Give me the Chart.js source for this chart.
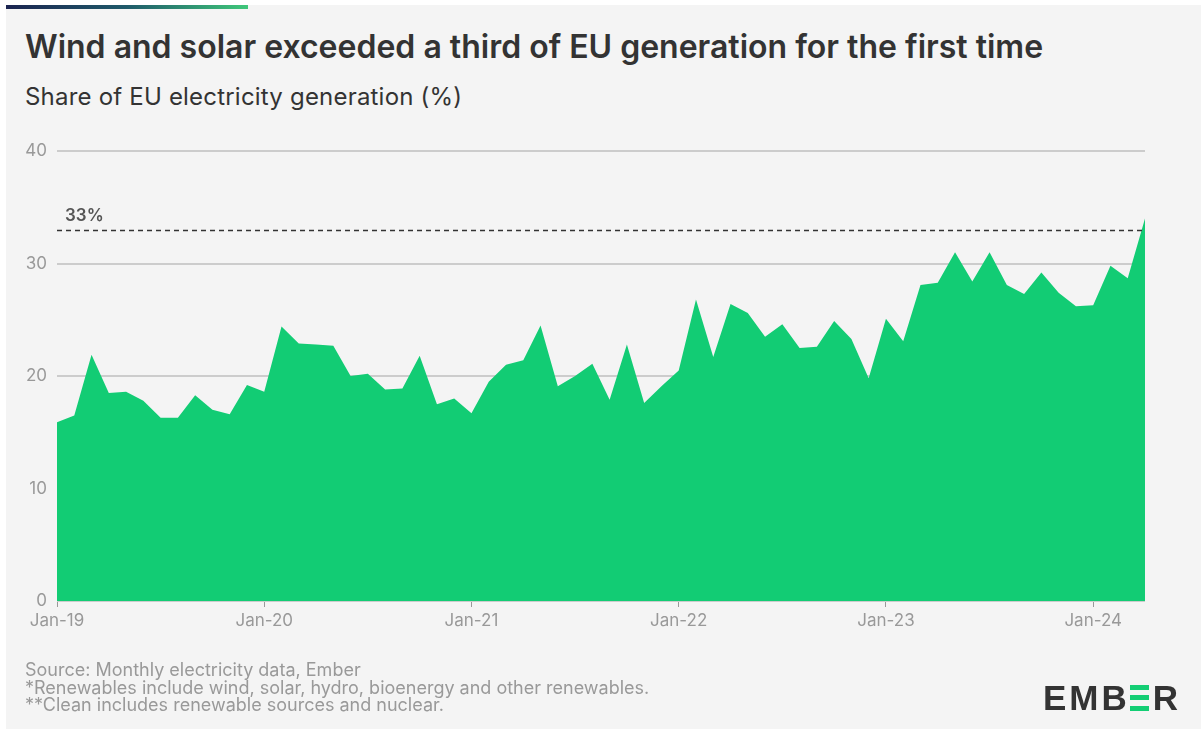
<!DOCTYPE html>
<html lang="en">
<head>
    <meta charset="UTF-8">
    <title>Wind and solar share of EU generation</title>
    <style>
        body {
            margin: 0;
            width: 1201px;
            height: 729px;
            background: #ffffff;
            font-family: 'Inter', sans-serif;
            overflow: hidden;
        }
        .panel {
            position: absolute;
            left: 6px;
            top: 5px;
            right: 0;
            bottom: 0;
            background: #f4f4f4;
        }
        .topbar {
            position: absolute;
            left: 6px;
            top: 5px;
            width: 242px;
            height: 4px;
            background: linear-gradient(90deg, #1b2450 0%, #1f5a6a 50%, #3fc77a 100%);
        }
        .title {
            position: absolute;
            left: 25px;
            top: 31px;
            font-size: 32px;
            line-height: 32px;
            font-weight: 600;
            color: #333333;
            white-space: nowrap;
        }
        .subtitle {
            position: absolute;
            left: 25px;
            top: 85px;
            font-size: 24px;
            line-height: 24px;
            letter-spacing: 0.2px;
            color: #333333;
            white-space: nowrap;
        }
        .chart-box {
            position: absolute;
            left: 0;
            top: 0;
            width: 1201px;
            height: 729px;
        }
        .footer {
            position: absolute;
            left: 25px;
            top: 661px;
            font-size: 18px;
            line-height: 17.7px;
            color: #999999;
            white-space: nowrap;
        }
        .logo {
            position: absolute;
            left: 1043px;
            top: 677px;
            font-family: 'Liberation Sans', sans-serif;
            font-weight: bold;
            font-size: 35px;
            line-height: 42px;
            color: #333333;
            letter-spacing: 3px;
            white-space: nowrap;
        }
        .logo .e {
            display: inline-block;
            position: relative;
            width: 19px;
            height: 26px;
            margin-right: 4px;
            vertical-align: -1px;
        }
        .logo .e i {
            position: absolute;
            left: 0;
            width: 19px;
            height: 5px;
            background: #13ce74;
        }
    </style>
</head>
<body>
    <div class="panel"></div>
    <div class="topbar"></div>
    <div class="title">Wind and solar exceeded a third of EU generation for the first time</div>
    <div class="subtitle">Share of EU electricity generation (%)</div>

    <div class="chart-box">
        <canvas id="shareChart" width="1201" height="729"></canvas>
    </div>

    <div class="footer">
        Source: Monthly electricity data, Ember<br>
        *Renewables include wind, solar, hydro, bioenergy and other renewables.<br>
        **Clean includes renewable sources and nuclear.
    </div>
    <div class="logo">EMB<span class="e"><i style="top:0"></i><i style="top:10px"></i><i style="top:21px"></i></span>R</div>

    <script src="https://cdn.jsdelivr.net/npm/chart.js"></script>
    <script>
        // Datos
        const monthNames = ['Jan', 'Feb', 'Mar', 'Apr', 'May', 'Jun', 'Jul', 'Aug', 'Sep', 'Oct', 'Nov', 'Dec'];
        const years = ['19', '20', '21', '22', '23', '24'];
        const lastMonthIndex = 3; // Apr-24

        const share2019 = [15.9, 16.5, 21.9, 18.5, 18.6, 17.8, 16.3, 16.3, 18.3, 17.0, 16.6, 19.2];
        const share2020 = [18.6, 24.4, 22.9, 22.8, 22.7, 20.0, 20.2, 18.8, 18.9, 21.8, 17.5, 18.0];
        const share2021 = [16.7, 19.5, 21.0, 21.4, 24.5, 19.1, 20.0, 21.1, 17.9, 22.8, 17.6, 19.1];
        const share2022 = [20.5, 26.8, 21.7, 26.4, 25.6, 23.5, 24.6, 22.5, 22.6, 24.9, 23.3, 19.8];
        const share2023 = [25.1, 23.1, 28.1, 28.3, 31.0, 28.4, 31.0, 28.1, 27.3, 29.2, 27.4, 26.2];
        const share2024 = [26.3, 29.8, 28.7, 34.0];

        const thresholdValue = 33;
        const thresholdLabel = '33%';
        const yTicks = [0, 10, 20, 30, 40];

        const labels = [];
        years.forEach(function (y, i) {
            monthNames.forEach(function (m, j) {
                if (i < years.length - 1 || j <= lastMonthIndex) labels.push(m + '-' + y);
            });
        });
        const shareData = [].concat(share2019, share2020, share2021, share2022, share2023, share2024);

        // Linea discontinua del 33%
        const thresholdPlugin = {
            id: 'threshold',
            afterDatasetsDraw(chart) {
                const ctx = chart.ctx;
                const area = chart.chartArea;
                const y = Math.round(chart.scales.y.getPixelForValue(thresholdValue)) + 0.5;
                ctx.save();
                ctx.strokeStyle = '#333333';
                ctx.lineWidth = 1.5;
                ctx.setLineDash([5, 4]);
                ctx.beginPath();
                ctx.moveTo(area.left, y);
                ctx.lineTo(area.right, y);
                ctx.stroke();
                ctx.setLineDash([]);
                ctx.fillStyle = '#555555';
                ctx.font = '600 17px Inter';
                ctx.textBaseline = 'alphabetic';
                ctx.fillText(thresholdLabel, area.left + 8, y - 10);
                ctx.restore();
            }
        };

        const ctx = document.getElementById('shareChart').getContext('2d');
        new Chart(ctx, {
            type: 'line',
            data: {
                labels: labels,
                datasets: [{
                    data: shareData,
                    backgroundColor: '#12cc74',
                    borderWidth: 0,
                    pointRadius: 0,
                    fill: 'origin',
                    tension: 0
                }]
            },
            options: {
                responsive: false,
                animation: false,
                layout: {
                    padding: { left: 0, right: 56, top: 151, bottom: 88 }
                },
                plugins: {
                    legend: { display: false },
                    tooltip: { enabled: false }
                },
                scales: {
                    x: {
                        offset: false,
                        border: { display: false },
                        grid: {
                            drawOnChartArea: false,
                            drawTicks: true,
                            tickLength: 6,
                            color: function (c) { return c.index % 12 === 0 ? '#999999' : 'rgba(0,0,0,0)'; }
                        },
                        ticks: {
                            autoSkip: false,
                            maxRotation: 0,
                            padding: 4,
                            color: '#999999',
                            font: { family: 'Inter', size: 17 },
                            callback: function (value, index) {
                                return index % 12 === 0 ? labels[index] : '';
                            }
                        },
                        afterFit: function (scale) { scale.height = 40; }
                    },
                    y: {
                        min: 0,
                        max: 40,
                        border: { display: false },
                        grid: {
                            color: '#cccccc',
                            lineWidth: 2,
                            drawTicks: false
                        },
                        afterBuildTicks: function (scale) {
                            scale.ticks = yTicks.map(function (v) { return { value: v }; });
                        },
                        ticks: {
                            padding: 10,
                            color: '#999999',
                            font: { family: 'Inter', size: 17 }
                        },
                        afterFit: function (scale) { scale.width = 57; }
                    }
                }
            },
            plugins: [thresholdPlugin]
        });
    </script>
</body>
</html>
